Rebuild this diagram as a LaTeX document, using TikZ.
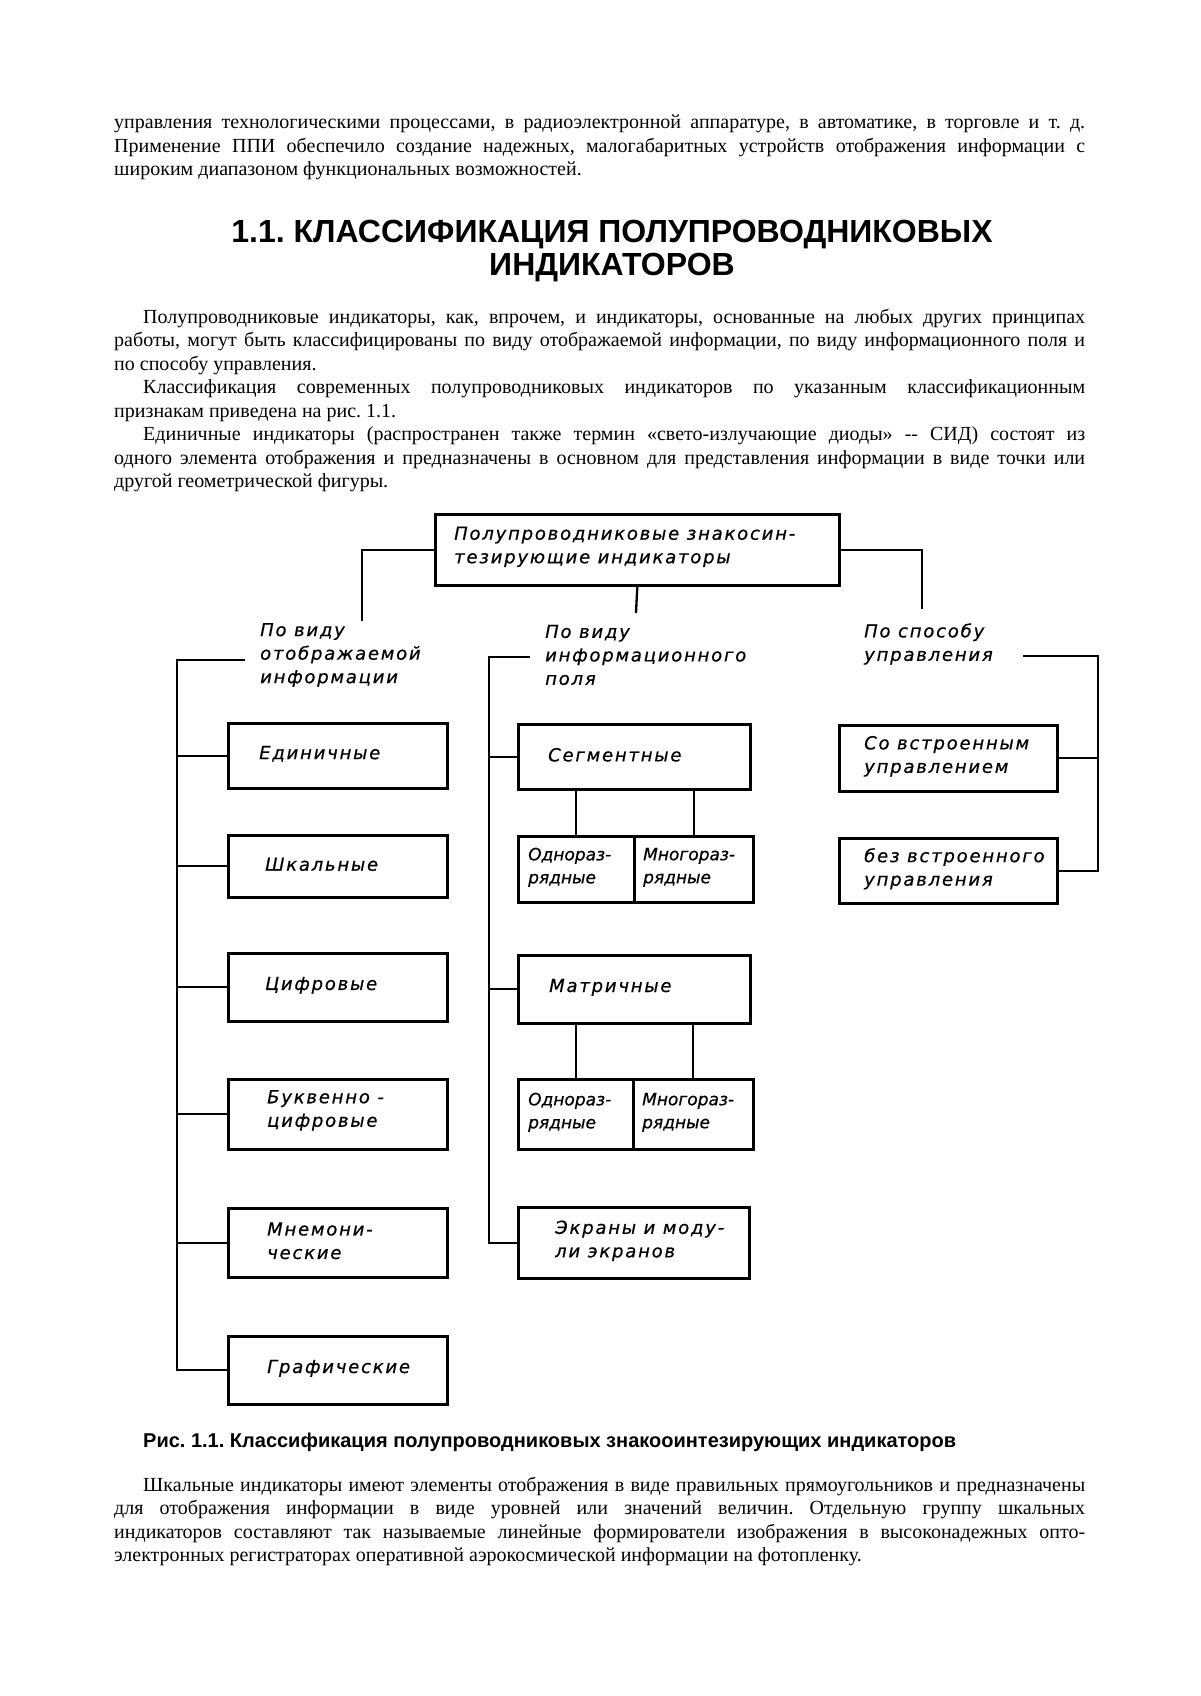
\documentclass[tikz,border=0pt]{standalone}
\usepackage{fontspec}
\setmainfont{Liberation Serif}
\newfontfamily\headfont{Liberation Sans}
\newfontfamily\gostw[LetterSpace=10,FakeBold=0.6]{DejaVu Sans}
\newfontfamily\gostn[FakeBold=0.6]{DejaVu Sans}
\frenchspacing
\tikzset{
  bodyf/.style={font=\frenchspacing\fontsize{20}{23.5}\selectfont, inner sep=0, anchor=base west},
  headf/.style={font=\frenchspacing\headfont\bfseries\fontsize{32}{34}\selectfont, inner sep=0, anchor=base},
  capf/.style={font=\frenchspacing\headfont\bfseries\fontsize{20}{23}\selectfont, inner sep=0, anchor=base west},
  box/.style={draw, line width=2.6pt, inner sep=0, anchor=north west},
  conn/.style={line width=2.3pt},
  gt/.style={font=\gostw\itshape\fontsize{18}{23.5}\selectfont, inner sep=0, anchor=west, align=left},
  gn/.style={font=\gostn\itshape\fontsize{17}{23}\selectfont, inner sep=0, anchor=west, align=left},
}
\begin{document}
\begin{tikzpicture}[x=1pt,y=-1pt]
\fill[white] (0,0) rectangle (1200,1696);
\useasboundingbox (0,0) rectangle (1200,1696);
% paragraph 1
\node[bodyf] (p1a) at (114,129) {\makebox[971pt][s]{управления технологическими процессами, в радиоэлектронной аппаратуре, в автоматике, в торговле и т. д.}};
\node[bodyf] (p1b) at (114,152.5) {\makebox[971pt][s]{Применение ППИ обеспечило создание надежных, малогабаритных устройств отображения информации с}};
\node[bodyf] (p1c) at (114,176) {широким диапазоном функциональных возможностей.};
% heading
\node[headf] (h1) at (612,243) {1.1. КЛАССИФИКАЦИЯ ПОЛУПРОВОДНИКОВЫХ};
\node[headf] (h2) at (612,276) {ИНДИКАТОРОВ};
% paragraphs 2-4
\node[bodyf] (p2a) at (143,323) {\makebox[942pt][s]{Полупроводниковые индикаторы, как, впрочем, и индикаторы, основанные на любых других принципах}};
\node[bodyf] (p2b) at (114,346.5) {\makebox[971pt][s]{работы, могут быть классифицированы по виду отображаемой информации, по виду информационного поля и}};
\node[bodyf] (p2c) at (114,370) {по способу управления.};
\node[bodyf] (p3a) at (143,393.5) {\makebox[942pt][s]{Классификация современных полупроводниковых индикаторов по указанным классификационным}};
\node[bodyf] (p3b) at (114,417) {признакам приведена на рис. 1.1.};
\node[bodyf] (p4a) at (143,440.5) {\makebox[942pt][s]{Единичные индикаторы (распространен также термин «свето-излучающие диоды» -{}- СИД) состоят из}};
\node[bodyf] (p4b) at (114,464) {\makebox[971pt][s]{одного элемента отображения и предназначены в основном для представления информации в виде точки или}};
\node[bodyf] (p4c) at (114,487.5) {другой геометрической фигуры.};
% diagram: top box
\node[box, minimum width=404pt, minimum height=71pt] (top) at (434,513) {};
\node[gt] (topt) at ([xshift=20pt,yshift=3pt]top.west) {Полупроводниковые знакосин-\\тезирующие индикаторы};
\coordinate (c1) at (362,621);
\coordinate (c2) at (636,613);
\coordinate (c3) at (922,609);
\draw[conn] (top.west) -| (c1);
\draw[conn] (top.south) -- (c2);
\draw[conn] (top.east) -| (c3);
% group labels
\node[gt] (lab1) at (260,655) {По виду\\отображаемой\\информации};
\node[gt] (lab2) at (545,655) {По виду\\информационного\\поля};
\node[gt] (lab3) at (864,644) {По способу\\управления};
% left column
\node[box, minimum width=219pt, minimum height=65pt] (e1) at (227,722) {};
\node[box, minimum width=219pt, minimum height=62pt] (e2) at (227,834) {};
\node[box, minimum width=219pt, minimum height=68pt] (e3) at (227,952) {};
\node[box, minimum width=219pt, minimum height=70pt] (e4) at (227,1078) {};
\node[box, minimum width=219pt, minimum height=69pt] (e5) at (227,1207) {};
\node[box, minimum width=219pt, minimum height=68pt] (e6) at (227,1335) {};
\node[gt] (e1t) at ([xshift=32pt,yshift=2pt]e1.west) {Единичные};
\node[gt] (e2t) at ([xshift=38pt,yshift=2pt]e2.west) {Шкальные};
\node[gt] (e3t) at ([xshift=38pt,yshift=2pt]e3.west) {Цифровые};
\node[gt] (e4t) at ([xshift=40pt,yshift=4pt]e4.west) {Буквенно -\\цифровые};
\node[gt] (e5t) at ([xshift=40pt,yshift=2pt]e5.west) {Мнемони-\\ческие};
\node[gt] (e6t) at ([xshift=40pt,yshift=2pt]e6.west) {Графические};
\coordinate (l0) at (245,660);
\coordinate (l1) at (177,660);
\draw[conn] (l0) -- (l1) |- (e6.west);
\foreach \b in {e1,e2,e3,e4,e5} \draw[conn] (l1 |- \b.west) -- (\b.west);
% middle column
\node[box, minimum width=232pt, minimum height=65pt] (seg) at (517,723) {};
\node[box, minimum width=116pt, minimum height=66pt] (s1a) at (517,835) {};
\node[box, minimum width=119pt, minimum height=66pt] (s1b) at (633,835) {};
\node[box, minimum width=232pt, minimum height=68pt] (mat) at (517,954) {};
\node[box, minimum width=115pt, minimum height=70pt] (s2a) at (517,1078) {};
\node[box, minimum width=120pt, minimum height=70pt] (s2b) at (632,1078) {};
\node[box, minimum width=231pt, minimum height=71pt] (scr) at (517,1206) {};
\node[gt] (segt) at ([xshift=31pt,yshift=2pt]seg.west) {Сегментные};
\node[gn] (s1at) at ([xshift=11pt,yshift=2pt]s1a.west) {Однораз-\\рядные};
\node[gn] (s1bt) at ([xshift=10pt,yshift=2pt]s1b.west) {Многораз-\\рядные};
\node[gt] (matt) at ([xshift=32pt,yshift=2pt]mat.west) {Матричные};
\node[gn] (s2at) at ([xshift=11pt,yshift=2pt]s2a.west) {Однораз-\\рядные};
\node[gn] (s2bt) at ([xshift=10pt,yshift=2pt]s2b.west) {Многораз-\\рядные};
\node[gt] (scrt) at ([xshift=38pt,yshift=2pt]scr.west) {Экраны и моду-\\ли экранов};
\draw[conn] (s1a.north |- seg.south) -- (s1a.north);
\draw[conn] (s1b.north |- seg.south) -- (s1b.north);
\draw[conn] (s2a.north |- mat.south) -- (s2a.north);
\draw[conn] (s2b.north |- mat.south) -- (s2b.north);
\coordinate (m0) at (530,657);
\coordinate (m1) at (489,657);
\draw[conn] (m0) -- (m1) |- (scr.west);
\draw[conn] (m1 |- seg.west) -- (seg.west);
\draw[conn] (m1 |- mat.west) -- (mat.west);
% right column
\node[box, minimum width=218pt, minimum height=66pt] (so1) at (838,724) {};
\node[box, minimum width=218pt, minimum height=65pt] (so2) at (838,837) {};
\node[gt] (so1t) at ([xshift=26pt,yshift=2pt]so1.west) {Со встроенным\\управлением};
\node[gt] (so2t) at ([xshift=26pt,yshift=2pt]so2.west) {без встроенного\\управления};
\coordinate (r0) at (1023,656);
\coordinate (r1) at (1098,656);
\draw[conn] (r0) -- (r1) |- (so2.east);
\draw[conn] (so1.east) -- (r1 |- so1.east);
% caption
\node[capf] (cap) at (143,1447) {Рис. 1.1. Классификация полупроводниковых знакооинтезирующих индикаторов};
% paragraph 5
\node[bodyf] (p5a) at (143,1491) {\makebox[942pt][s]{Шкальные индикаторы имеют элементы отображения в виде правильных прямоугольников и предназначены}};
\node[bodyf] (p5b) at (114,1514.5) {\makebox[971pt][s]{для отображения информации в виде уровней или значений величин. Отдельную группу шкальных}};
\node[bodyf] (p5c) at (114,1538) {\makebox[971pt][s]{индикаторов составляют так называемые линейные формирователи изображения в высоконадежных опто-}};
\node[bodyf] (p5d) at (114,1561.5) {электронных регистраторах оперативной аэрокосмической информации на фотопленку.};
\end{tikzpicture}
\end{document}
